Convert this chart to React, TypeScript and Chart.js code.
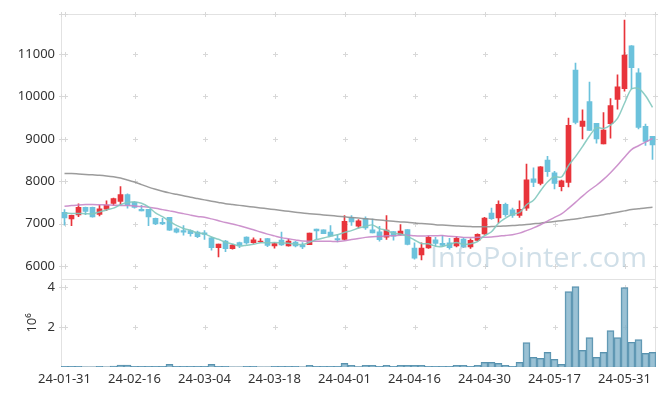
import React, { useEffect, useRef } from 'react';
import { Chart, registerables } from 'chart.js';
Chart.register(...registerables);

const dates = [
  '24-01-31','24-02-01','24-02-02','24-02-05','24-02-06','24-02-07','24-02-08','24-02-13','24-02-14','24-02-15',
  '24-02-16','24-02-19','24-02-20','24-02-21','24-02-22','24-02-23','24-02-26','24-02-27','24-02-28','24-02-29',
  '24-03-04','24-03-05','24-03-06','24-03-07','24-03-08','24-03-11','24-03-12','24-03-13','24-03-14','24-03-15',
  '24-03-18','24-03-19','24-03-20','24-03-21','24-03-22','24-03-25','24-03-26','24-03-27','24-03-28','24-03-29',
  '24-04-01','24-04-02','24-04-03','24-04-04','24-04-05','24-04-08','24-04-09','24-04-11','24-04-12','24-04-15',
  '24-04-16','24-04-17','24-04-18','24-04-19','24-04-22','24-04-23','24-04-24','24-04-25','24-04-26','24-04-29',
  '24-04-30','24-05-02','24-05-03','24-05-07','24-05-08','24-05-09','24-05-10','24-05-13','24-05-14','24-05-16',
  '24-05-17','24-05-20','24-05-21','24-05-22','24-05-23','24-05-24','24-05-27','24-05-28','24-05-29','24-05-30',
  '24-05-31','24-06-03','24-06-04','24-06-05','24-06-07'
];

const opens = [
  7265,7110,7203,7382,7382,7219,7343,7476,7522,7686,
  7507,7335,7335,7125,7032,7149,6876,6838,6838,6799,
  6783,6666,6434,6589,6410,6550,6683,6550,6574,6644,
  6473,6613,6473,6566,6496,6504,6869,6854,6799,6644,
  6628,7150,6940,7118,6853,6806,6681,6814,6744,6860,
  6425,6261,6425,6619,6534,6549,6471,6635,6448,6604,
  6759,7249,7133,7452,7327,7195,7365,8057,7950,8501,
  8197,7871,7972,10625,9294,9878,9364,8882,9357,9932,
  10181,11193,10555,9294,9061
];
const highs = [
  7328,7200,7468,7390,7390,7429,7538,7600,7872,7701,
  7522,7429,7335,7133,7125,7149,6900,6954,6853,6822,
  6838,6682,6519,6605,6512,6566,6690,6667,6644,6652,
  6550,6799,6628,6582,6550,6776,6869,6854,6955,6745,
  7188,7188,7095,7157,7109,6938,7187,6814,6977,6860,
  6549,6549,6705,6674,6720,6650,6697,6666,6642,6759,
  7148,7366,7537,7483,7366,7536,8407,8314,8345,8586,
  8236,8026,9489,10788,9683,10337,9364,9621,9948,10508,
  11799,11200,10656,9349,9061
];
const lows = [
  6962,6954,7164,7211,7150,7180,7304,7429,7429,7367,
  7367,7297,6954,6977,6977,6838,6783,6729,6705,6666,
  6627,6371,6216,6340,6395,6434,6512,6535,6550,6457,
  6418,6488,6465,6449,6410,6504,6644,6760,6706,6566,
  6613,6955,6900,6862,6783,6588,6627,6611,6728,6495,
  6160,6145,6417,6471,6464,6394,6448,6432,6417,6588,
  6744,7101,7016,7172,7148,7147,7310,7871,7914,8112,
  7816,7769,7863,9349,9000,9201,8898,8882,9014,9699,
  10127,10181,9232,8843,8516
];
const closes = [
  7133,7195,7382,7289,7157,7351,7437,7592,7686,7437,
  7382,7297,7157,6993,6993,6845,6799,6799,6760,6690,
  6744,6433,6519,6410,6496,6488,6543,6620,6589,6488,
  6527,6496,6589,6473,6449,6776,6830,6760,6706,6613,
  7056,7041,7064,6900,6783,6619,6845,6705,6822,6510,
  6183,6425,6674,6534,6487,6432,6650,6448,6604,6744,
  7133,7117,7452,7210,7195,7334,8034,7972,8339,8228,
  7948,8011,9318,9388,9419,9201,9000,9209,9784,10228,
  10975,10679,9271,8937,8859
];
const ma5 = [
  7245,7240,7238,7235,7231,7275,7323,7365,7445,7501,
  7507,7479,7392,7253,7164,7057,6957,6886,6839,6779,
  6758,6685,6629,6559,6520,6469,6491,6511,6547,6546,
  6553,6544,6538,6515,6507,6557,6623,6658,6704,6737,
  6793,6835,6896,6935,6969,6881,6842,6770,6755,6700,
  6613,6529,6523,6465,6461,6510,6555,6510,6524,6576,
  6716,6809,7010,7131,7221,7262,7445,7549,7775,7981,
  8104,8100,8369,8579,8817,9067,9265,9243,9323,9484,
  9839,10175,10187,10018,9744
];
const ma20 = [
  7410,7425,7440,7450,7450,7445,7440,7435,7430,7425,
  7415,7405,7385,7360,7330,7300,7270,7235,7200,7169,
  7149,7111,7068,7024,6991,6948,6903,6855,6800,6752,
  6710,6669,6641,6615,6588,6584,6586,6584,6581,6577,
  6593,6623,6651,6675,6690,6696,6711,6715,6727,6728,
  6711,6707,6712,6715,6717,6699,6690,6675,6670,6676,
  6680,6684,6703,6719,6739,6775,6835,6898,6974,7060,
  7148,7227,7360,7502,7649,7787,7905,8043,8202,8376,
  8568,8746,8837,8924,9007
];
const ma120 = [
  8185,8180,8170,8160,8150,8140,8125,8105,8075,8030,
  7980,7920,7860,7810,7765,7725,7690,7655,7620,7590,
  7560,7530,7500,7470,7450,7430,7410,7390,7370,7350,
  7330,7310,7290,7270,7250,7235,7220,7205,7190,7175,
  7160,7145,7130,7115,7100,7085,7070,7055,7040,7030,
  7015,7000,6990,6975,6965,6955,6945,6935,6930,6925,
  6925,6930,6935,6945,6955,6965,6980,6995,7010,7030,
  7050,7070,7090,7110,7135,7160,7185,7210,7240,7270,
  7300,7330,7350,7370,7385
];
const volumes = [
  30000,30000,30000,5000,5000,30000,5000,40000,90000,90000,
  30000,30000,30000,30000,30000,130000,30000,30000,30000,30000,
  30000,130000,30000,30000,5000,5000,30000,30000,5000,5000,
  30000,30000,30000,30000,5000,80000,30000,30000,30000,30000,
  180000,80000,20000,80000,80000,30000,80000,30000,80000,80000,
  80000,80000,30000,30000,30000,30000,80000,80000,30000,80000,
  230000,230000,180000,80000,30000,230000,1220000,480000,430000,730000,
  380000,130000,3770000,4020000,830000,1470000,480000,730000,1820000,1470000,
  3970000,1240000,1370000,680000,730000
];

const priceTicks = [6000, 7000, 8000, 9000, 10000, 11000];
const volTicks = [2000000, 4000000];
const xTickIdx = [0, 10, 20, 30, 40, 50, 60, 70, 80];

const UP = '#e8343b';
const DOWN = '#6cc2dc';
const FONT = '"Noto Sans", "Open Sans", sans-serif';

const decorPlugin = {
  id: 'decor',
  beforeDatasetsDraw(chart: any) {
    const { ctx, chartArea } = chart;
    const xs = chart.scales.x, ys = chart.scales.y, vs = chart.scales.y2;
    const L = Math.round(chartArea.left), R = Math.round(chartArea.right);
    ctx.save();
    ctx.strokeStyle = '#e2e2e2';
    ctx.lineWidth = 1;
    const pt = Math.round(ys.top), pb = Math.round(ys.bottom);
    const vt = Math.round(vs.top), vb = Math.round(vs.bottom);
    ctx.strokeRect(L + 0.5, pt + 0.5, R - L - 1, pb - pt);
    ctx.strokeRect(L + 0.5, vt + 0.5, R - L - 1, vb - vt - 1);
    const xp = [L, ...xTickIdx.map((i) => Math.round(xs.getPixelForValue(i))), R - 1];
    const yp = [
      pt,
      ...priceTicks.map((v) => Math.round(ys.getPixelForValue(v))),
      ...volTicks.map((v) => Math.round(vs.getPixelForValue(v))),
    ];
    ctx.strokeStyle = '#d8d8d8';
    ctx.beginPath();
    for (const x of xp) {
      for (const y of yp) {
        ctx.moveTo(x - 2, y + 0.5);
        ctx.lineTo(x + 3, y + 0.5);
        ctx.moveTo(x + 0.5, y - 2);
        ctx.lineTo(x + 0.5, y + 3);
      }
    }
    ctx.stroke();
    ctx.restore();
  },
  afterDatasetsDraw(chart: any) {
    const { ctx } = chart;
    ctx.save();
    const text = 'InfoPointer.com';
    ctx.font = '28px "Open Sans", sans-serif';
    const w = ctx.measureText(text).width;
    const target = 217;
    ctx.translate(430, 267);
    ctx.scale(target / w, 1);
    ctx.fillStyle = 'rgba(150,185,205,0.45)';
    ctx.textBaseline = 'alphabetic';
    ctx.fillText(text, 0, 0);
    ctx.restore();
  },
};

export default function App() {
  const ref = useRef<HTMLCanvasElement | null>(null);
  useEffect(() => {
    if (!ref.current) return;
    const colors = closes.map((c, i) => (c >= opens[i] ? UP : DOWN));
    const chart = new Chart(ref.current, {
      data: {
        labels: dates,
        datasets: [
          {
            type: 'line',
            label: 'MA5',
            data: ma5,
            borderColor: 'rgba(130,200,190,0.9)',
            borderWidth: 1.5,
            pointRadius: 0,
            tension: 0.3,
            yAxisID: 'y',
            order: 1,
          },
          {
            type: 'line',
            label: 'MA20',
            data: ma20,
            borderColor: 'rgba(200,135,200,0.9)',
            borderWidth: 1.5,
            pointRadius: 0,
            tension: 0.3,
            yAxisID: 'y',
            order: 1,
          },
          {
            type: 'line',
            label: 'MA120',
            data: ma120,
            borderColor: 'rgba(145,145,145,0.9)',
            borderWidth: 1.5,
            pointRadius: 0,
            tension: 0.3,
            yAxisID: 'y',
            order: 1,
          },
          {
            type: 'bar',
            label: 'body',
            data: opens.map((o, i) => [o, closes[i]]) as any,
            backgroundColor: colors,
            barThickness: 5,
            grouped: false,
            yAxisID: 'y',
            order: 2,
          },
          {
            type: 'bar',
            label: 'wick',
            data: lows.map((l, i) => [l, highs[i]]) as any,
            backgroundColor: colors,
            barThickness: 1,
            grouped: false,
            yAxisID: 'y',
            order: 3,
          },
          {
            type: 'bar',
            label: 'volume',
            data: volumes,
            backgroundColor: 'rgba(125,175,200,0.78)',
            borderColor: 'rgba(80,140,170,0.95)',
            borderWidth: 1,
            barPercentage: 1,
            categoryPercentage: 1,
            grouped: false,
            yAxisID: 'y2',
            order: 4,
          },
        ],
      } as any,
      options: {
        responsive: false,
        animation: false,
        events: [],
        layout: { padding: { top: 10, right: 9, left: 0, bottom: 0 } },
        plugins: { legend: { display: false }, tooltip: { enabled: false } },
        scales: {
          x: {
            type: 'category',
            offset: true,
            grid: { display: false, drawTicks: false },
            border: { display: false },
            ticks: {
              autoSkip: false,
              maxRotation: 0,
              minRotation: 0,
              padding: 4,
              color: '#333',
              font: { family: FONT, size: 13 },
              callback: (_v: any, i: number) => (i % 10 === 0 ? dates[i] : ''),
            },
            afterFit: (s: any) => {
              s.height = 29;
            },
          },
          y2: {
            position: 'left',
            stack: 'v',
            stackWeight: 1,
            min: 0,
            max: 4420000,
            grid: { display: false, drawTicks: false },
            border: { display: false },
            title: {
              display: true,
              text: '10⁶',
              color: '#333',
              font: { family: FONT, size: 13 },
              padding: { top: 24, bottom: 0 },
            },
            ticks: {
              padding: 6,
              color: '#333',
              font: { family: FONT, size: 13 },
              callback: (v: any) => String(Number(v) / 1000000),
            },
            afterBuildTicks: (s: any) => {
              s.ticks = volTicks.map((v) => ({ value: v }));
            },
            afterFit: (s: any) => {
              s.width = 61;
            },
          },
          y: {
            position: 'left',
            stack: 'v',
            stackWeight: 3,
            min: 5700,
            max: 11950,
            grid: { display: false, drawTicks: false },
            border: { display: false },
            ticks: {
              padding: 6,
              color: '#333',
              font: { family: FONT, size: 13 },
              callback: (v: any) => String(v),
            },
            afterBuildTicks: (s: any) => {
              s.ticks = priceTicks.map((v) => ({ value: v }));
            },
            afterFit: (s: any) => {
              s.width = 61;
            },
          },
        },
      } as any,
      plugins: [decorPlugin],
    });
    return () => chart.destroy();
  }, []);
  return (
    <div style={{ position: 'absolute', left: 0, top: 0, width: 665, height: 396, background: '#fff' }}>
      <canvas ref={ref} width={665} height={396} />
    </div>
  );
}
